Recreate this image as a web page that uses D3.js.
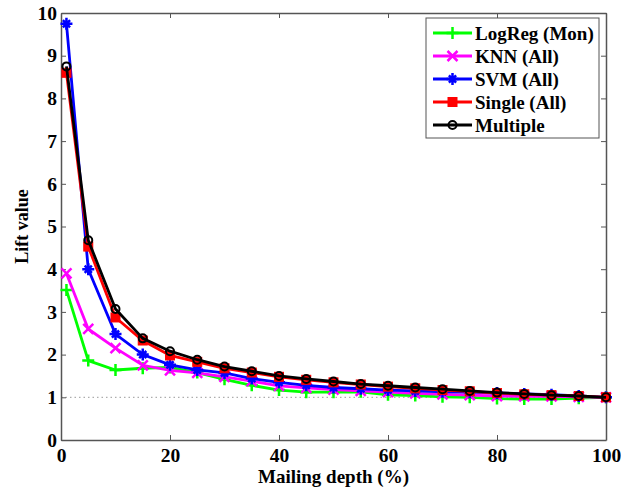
<!DOCTYPE html>
<html>
<head>
<meta charset="utf-8">
<script src="https://cdn.jsdelivr.net/npm/d3@7"></script>
<style>
  html, body { margin: 0; padding: 0; background: #fff; }
  text { font-family: "Liberation Serif", "Times New Roman", serif; font-weight: bold; }
</style>
</head>
<body>
<script>
const depth = [1, 5, 10, 15, 20, 25, 30, 35, 40, 45, 50, 55, 60, 65, 70, 75, 80, 85, 90, 95, 100];

const logreg = [3.51, 1.86, 1.64, 1.68, 1.70, 1.58, 1.42, 1.28, 1.17, 1.12, 1.12, 1.13, 1.06, 1.04, 1.01, 1.0, 0.97, 0.96, 0.96, 0.98, 1.0];
const knn = [3.9, 2.6, 2.15, 1.75, 1.63, 1.57, 1.48, 1.38, 1.27, 1.22, 1.18, 1.15, 1.12, 1.09, 1.07, 1.05, 1.03, 1.02, 1.02, 1.01, 1.0];
const svm = [9.75, 4.0, 2.48, 2.0, 1.76, 1.64, 1.57, 1.44, 1.35, 1.28, 1.23, 1.2, 1.17, 1.15, 1.13, 1.12, 1.1, 1.08, 1.06, 1.03, 1.0];
const single = [8.6, 4.53, 2.87, 2.33, 1.98, 1.83, 1.68, 1.58, 1.48, 1.41, 1.35, 1.3, 1.25, 1.21, 1.17, 1.14, 1.1, 1.07, 1.05, 1.03, 1.0];
const multiple = [8.75, 4.68, 3.07, 2.38, 2.08, 1.88, 1.72, 1.61, 1.5, 1.43, 1.37, 1.31, 1.27, 1.23, 1.19, 1.15, 1.11, 1.08, 1.05, 1.03, 1.0];

const names = ['LogReg (Mon)', 'KNN (All)', 'SVM (All)', 'Single (All)', 'Multiple'];
const colors = ['#00ff00', '#ff00ff', '#0000ff', '#ff0000', '#000000'];
const markers = ['plus', 'cross', 'star', 'square', 'circle'];
const seriesValues = [logreg, knn, svm, single, multiple];

const xTicks = [0, 20, 40, 60, 80, 100];
const yTicks = [0, 1, 2, 3, 4, 5, 6, 7, 8, 9, 10];

const width = 621, height = 489;
const m = { left: 61, right: 15, top: 13, bottom: 49 };

const svg = d3.select('body').append('svg')
  .attr('width', width)
  .attr('height', height);

const x = d3.scaleLinear().domain([0, 100]).range([m.left, width - m.right]);
const y = d3.scaleLinear().domain([0, 10]).range([height - m.bottom, m.top]);

// reference line at lift 1
svg.append('line')
  .attr('x1', x(0)).attr('x2', x(100))
  .attr('y1', y(1)).attr('y2', y(1))
  .attr('stroke', '#999')
  .attr('stroke-width', 1)
  .attr('stroke-dasharray', '1.5,3');

const axisColor = '#555';

// axes with inward ticks, mirrored on top/right
const gBottom = svg.append('g')
  .attr('transform', `translate(0,${y(0)})`)
  .call(d3.axisBottom(x).tickValues(xTicks).tickSizeInner(-5).tickSizeOuter(0));
const gTop = svg.append('g')
  .attr('transform', `translate(0,${y(10)})`)
  .call(d3.axisTop(x).tickValues(xTicks).tickSizeInner(-5).tickSizeOuter(0).tickFormat(''));
const gLeft = svg.append('g')
  .attr('transform', `translate(${x(0)},0)`)
  .call(d3.axisLeft(y).tickValues(yTicks).tickSizeInner(-5).tickSizeOuter(0).tickPadding(4));
const gRight = svg.append('g')
  .attr('transform', `translate(${x(100)},0)`)
  .call(d3.axisRight(y).tickValues(yTicks).tickSizeInner(-5).tickSizeOuter(0).tickFormat(''));

[gBottom, gTop, gLeft, gRight].forEach(g => {
  g.select('.domain').attr('stroke', axisColor).attr('stroke-width', 1.5);
  g.selectAll('.tick line').attr('stroke', axisColor);
  g.selectAll('text')
    .attr('fill', '#000')
    .style('font-size', '19.5px')
    .style('font-family', '"Liberation Serif", serif')
    .style('font-weight', 'bold');
});
gBottom.selectAll('text').attr('y', 22).attr('dy', 0);

svg.append('text')
  .attr('x', (x(0) + x(100)) / 2)
  .attr('y', 483)
  .attr('text-anchor', 'middle')
  .style('font-size', '19px')
  .text('Mailing depth (%)');

svg.append('text')
  .attr('transform', `translate(28,${(y(0) + y(10)) / 2}) rotate(-90)`)
  .attr('text-anchor', 'middle')
  .style('font-size', '18px')
  .text('Lift value');

function drawMarker(g, type, color, cx, cy) {
  const r = 5;
  if (type === 'plus') {
    g.append('path').attr('d', `M${cx - r - 1},${cy}H${cx + r + 1}M${cx},${cy - r - 1}V${cy + r + 1}`)
      .attr('stroke', color).attr('stroke-width', 2.5).attr('fill', 'none');
  } else if (type === 'cross') {
    g.append('path').attr('d', `M${cx - r},${cy - r}L${cx + r},${cy + r}M${cx - r},${cy + r}L${cx + r},${cy - r}`)
      .attr('stroke', color).attr('stroke-width', 2.5).attr('fill', 'none');
  } else if (type === 'star') {
    const d = r * 0.72;
    g.append('path').attr('d', `M${cx - r - 1},${cy}H${cx + r + 1}M${cx},${cy - r - 1}V${cy + r + 1}M${cx - d},${cy - d}L${cx + d},${cy + d}M${cx - d},${cy + d}L${cx + d},${cy - d}`)
      .attr('stroke', color).attr('stroke-width', 2.5).attr('fill', 'none');
  } else if (type === 'square') {
    g.append('rect').attr('x', cx - 4.5).attr('y', cy - 4.5).attr('width', 9).attr('height', 9)
      .attr('fill', color).attr('stroke', color);
  } else if (type === 'circle') {
    g.append('circle').attr('cx', cx).attr('cy', cy).attr('r', 4)
      .attr('fill', 'none').attr('stroke', color).attr('stroke-width', 2);
  }
}

const line = d3.line().x(d => x(d[0])).y(d => y(d[1]));

seriesValues.forEach((vals, i) => {
  const pts = depth.map((dd, k) => [dd, vals[k]]);
  const g = svg.append('g');
  g.append('path')
    .datum(pts)
    .attr('d', line)
    .attr('fill', 'none')
    .attr('stroke', colors[i])
    .attr('stroke-width', 2.8);
  pts.forEach(p => drawMarker(g, markers[i], colors[i], x(p[0]), y(p[1])));
});

// legend
const lg = svg.append('g');
lg.append('rect')
  .attr('x', 426).attr('y', 18)
  .attr('width', 173).attr('height', 120)
  .attr('fill', '#fff')
  .attr('stroke', axisColor)
  .attr('stroke-width', 1);

names.forEach((n, i) => {
  const ly = 33 + i * 23;
  lg.append('line')
    .attr('x1', 433).attr('x2', 472)
    .attr('y1', ly).attr('y2', ly)
    .attr('stroke', colors[i]).attr('stroke-width', 2.8);
  drawMarker(lg, markers[i], colors[i], 452.5, ly);
  lg.append('text')
    .attr('x', 475).attr('y', ly + 7)
    .style('font-size', '19px')
    .text(n);
});
</script>
</body>
</html>
